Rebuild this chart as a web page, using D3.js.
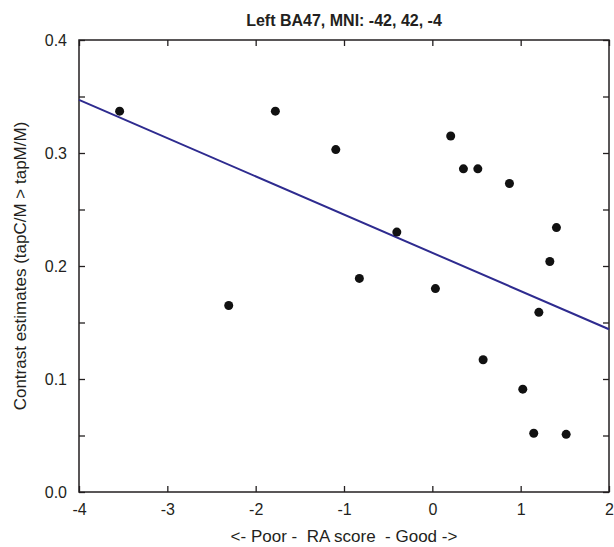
<!DOCTYPE html>
<html>
<head>
<meta charset="utf-8">
<script src="https://cdn.jsdelivr.net/npm/d3@7"></script>
<style>
  body { margin: 0; background: #fff; }
  text { font-family: "Liberation Sans", Arial, sans-serif; fill: #231f20; }
</style>
</head>
<body>
<script>
// RA score vs contrast estimate, one dot per subject
var raScore = [-3.54, -2.305, -1.777, -1.093, -0.826, -0.402, 0.035, 0.208, 0.352,
               0.515, 0.575, 0.873, 1.024, 1.148, 1.206, 1.33, 1.405, 1.515];
var contrast = [0.337, 0.165, 0.337, 0.303, 0.189, 0.230, 0.180, 0.315, 0.286,
                0.286, 0.117, 0.273, 0.091, 0.052, 0.159, 0.204, 0.234, 0.051];
// fitted line end points
var fitX = [-4, 2];
var fitY = [0.347, 0.144];

var xTicks = [-4, -3, -2, -1, 0, 1, 2];
var xTickLabels = ["-4", "-3", "-2", "-1", "0", "1", "2"];
var yTicks = [0.0, 0.1, 0.2, 0.3, 0.4];
var yTickLabels = ["0.0", "0.1", "0.2", "0.3", "0.4"];
var yMinor = [0.05, 0.15, 0.25, 0.35];

var svgWidth = 614, svgHeight = 547;
var margin = { top: 40, right: 5, bottom: 55, left: 79 };
var width = svgWidth - margin.left - margin.right;
var height = svgHeight - margin.top - margin.bottom;

var svg = d3.select("body").append("svg")
    .attr("width", svgWidth)
    .attr("height", svgHeight);

var g = svg.append("g")
    .attr("transform", "translate(" + margin.left + "," + margin.top + ")");

var x = d3.scaleLinear().domain([-4, 2]).range([0, width]);
var y = d3.scaleLinear().domain([0, 0.4]).range([height, 0]);

var tickLen = 6;

// bottom axis with labels
g.append("g")
    .attr("transform", "translate(0," + height + ")")
    .call(d3.axisBottom(x).tickValues(xTicks).tickSizeInner(-tickLen).tickSizeOuter(0).tickPadding(12)
        .tickFormat(function(d, i) { return xTickLabels[i]; }))
    .call(function(a) { a.select(".domain").remove(); })
    .selectAll("text").style("font-size", "16px");

// top axis, ticks only
g.append("g")
    .call(d3.axisTop(x).tickValues(xTicks).tickSizeInner(-tickLen).tickSizeOuter(0).tickFormat(""))
    .call(function(a) { a.select(".domain").remove(); });

// left axis with labels
g.append("g")
    .call(d3.axisLeft(y).tickValues(yTicks).tickSizeInner(-tickLen).tickSizeOuter(0).tickPadding(12)
        .tickFormat(function(d, i) { return yTickLabels[i]; }))
    .call(function(a) { a.select(".domain").remove(); })
    .selectAll("text").style("font-size", "16px");

g.append("g")
    .call(d3.axisLeft(y).tickValues(yMinor).tickSizeInner(-tickLen).tickSizeOuter(0).tickFormat(""))
    .call(function(a) { a.select(".domain").remove(); });

// right axis, ticks only
g.append("g")
    .attr("transform", "translate(" + width + ",0)")
    .call(d3.axisRight(y).tickValues(yTicks.concat(yMinor)).tickSizeInner(-tickLen).tickSizeOuter(0).tickFormat(""))
    .call(function(a) { a.select(".domain").remove(); });

g.selectAll(".tick line").attr("stroke", "#231f20").attr("stroke-width", 1.3);

// frame
g.append("rect")
    .attr("x", 0).attr("y", 0)
    .attr("width", width).attr("height", height)
    .attr("fill", "none")
    .attr("stroke", "#231f20")
    .attr("stroke-width", 1.5);

// regression line
var line = d3.line()
    .x(function(d) { return x(d[0]); })
    .y(function(d) { return y(d[1]); });

g.append("path")
    .datum(d3.zip(fitX, fitY))
    .attr("fill", "none")
    .attr("stroke", "#2e2b8f")
    .attr("stroke-width", 2)
    .attr("d", line);

// points
g.selectAll("circle.pt")
    .data(d3.zip(raScore, contrast))
    .enter().append("circle")
    .attr("class", "pt")
    .attr("cx", function(d) { return x(d[0]); })
    .attr("cy", function(d) { return y(d[1]); })
    .attr("r", 4.5)
    .attr("fill", "#111");

// title and labels
svg.append("text")
    .attr("x", margin.left + width / 2)
    .attr("y", 26)
    .attr("text-anchor", "middle")
    .style("font-size", "16px")
    .style("font-weight", "bold")
    .text("Left BA47, MNI: -42, 42, -4");

svg.append("text")
    .attr("x", margin.left + width / 2)
    .attr("y", 542)
    .attr("text-anchor", "middle")
    .style("font-size", "17px")
    .style("white-space", "pre")
    .text("<- Poor -  RA score  - Good ->");

svg.append("text")
    .attr("transform", "translate(26," + (margin.top + height / 2) + ") rotate(-90)")
    .attr("text-anchor", "middle")
    .style("font-size", "17px")
    .text("Contrast estimates (tapC/M > tapM/M)");
</script>
</body>
</html>
